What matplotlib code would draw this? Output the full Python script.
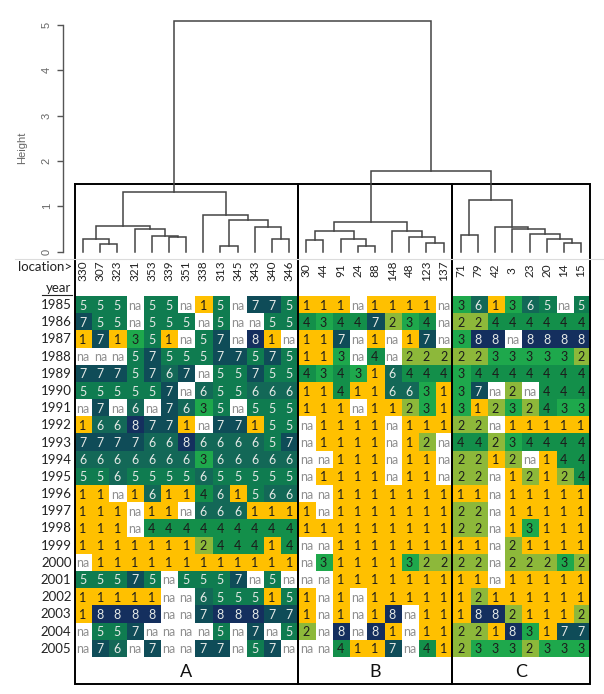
import numpy as np
import matplotlib
matplotlib.use("Agg")
import matplotlib.pyplot as plt
from matplotlib.colors import ListedColormap, BoundaryNorm

N = None

locations = ["330", "307", "323", "321", "353", "339", "351", "338", "313", "345", "343", "340", "346",
             "30", "44", "91", "24", "88", "148", "48", "123", "137",
             "71", "79", "42", "3", "23", "20", "14", "15"]
groups = ["A", "B", "C"]
group_sizes = [13, 9, 8]
years = [str(y) for y in range(1985, 2006)]

values = [
    [5, 5, 5, N, 5, 5, N, 1, 5, N, 7, 7, 5, 1, 1, 1, N, 1, 1, 1, 1, N, 3, 6, 1, 3, 6, 5, N, 5],
    [7, 5, 5, N, 5, 5, 5, N, 5, N, N, 5, 5, 4, 3, 4, 4, 7, 2, 3, 4, N, 2, 2, 4, 4, 4, 4, 4, 4],
    [1, 7, 1, 3, 5, 1, N, 5, 7, N, 8, 1, N, 1, 1, 7, N, 1, N, 1, 7, N, 3, 8, 8, N, 8, 8, 8, 8],
    [N, N, N, 5, 7, 5, 5, 5, 7, 7, 5, 7, 5, 1, 1, 3, N, 4, N, 2, 2, 2, 2, 2, 3, 3, 3, 3, 3, 2],
    [7, 7, 7, 5, 7, 6, 7, N, 5, 5, 7, 5, 5, 4, 3, 4, 3, 1, 6, 4, 4, 4, 3, 4, 4, 4, 4, 4, 4, 4],
    [5, 5, 5, 5, 5, 7, N, 6, 5, 5, 6, 6, 6, 1, 1, 4, 1, 1, 6, 6, 3, 1, 3, 7, N, 2, N, 4, 4, 4],
    [N, 7, N, 6, N, 7, 6, 3, 5, N, 5, 5, 5, 1, 1, 1, N, 1, 1, 2, 3, 1, 3, 1, 2, 3, 2, 4, 3, 3],
    [1, 6, 6, 8, 7, 7, 1, N, 7, 7, 1, 5, 5, N, 1, 1, 1, 1, N, 1, 1, 1, 2, 2, N, 1, 1, 1, 1, 1],
    [7, 7, 7, 7, 6, 6, 8, 6, 6, 6, 6, 5, 7, N, 1, 1, 1, 1, N, 1, 2, N, 4, 4, 2, 3, 4, 4, 4, 4],
    [6, 6, 6, 6, 6, 6, 6, 3, 6, 6, 6, 6, 6, N, N, 1, 1, 1, N, 1, 1, N, 2, 2, 1, 2, N, 1, 4, 4],
    [5, 5, 6, 5, 5, 5, 5, 6, 5, 5, 5, 5, 5, N, 1, 1, 1, 1, N, 1, 1, N, 2, 2, N, 1, 2, 1, 2, 4],
    [1, 1, N, 1, 6, 1, 1, 4, 6, 1, 5, 6, 6, N, N, 1, 1, 1, 1, 1, 1, 1, 1, 1, N, 1, 1, 1, 1, 1],
    [1, 1, 1, N, 1, 1, N, 6, 6, 6, 1, 1, 1, 1, N, 1, 1, 1, 1, 1, 1, 1, 2, 2, N, 1, 1, 1, 1, 1],
    [1, 1, 1, N, 4, 4, 4, 4, 4, 4, 4, 4, 4, 1, 1, 1, 1, 1, 1, 1, 1, 1, 2, 2, N, 1, 3, 1, 1, 1],
    [1, 1, 1, 1, 1, 1, 1, 2, 4, 4, 4, 1, 4, N, N, 1, 1, 1, 1, 1, 1, 1, 1, 1, N, 2, 1, 1, 1, 1],
    [N, 1, 1, 1, 1, 1, 1, 1, 1, 1, 1, 1, 1, N, 3, 1, 1, 1, 1, 3, 2, 2, 2, 2, N, 2, 2, 2, 3, 2],
    [5, 5, 5, 7, 5, N, 5, 5, 5, 7, N, 5, N, N, N, 1, 1, 1, 1, 1, 1, 1, 1, 1, N, 1, 1, 1, 1, 1],
    [1, 1, 1, 1, 1, N, N, 6, 5, 5, 5, 1, 5, 1, N, 1, N, 1, 1, 1, 1, 1, 1, 2, 1, 1, 1, 1, 1, 1],
    [1, 8, 8, 8, 8, N, N, 7, 8, 8, 8, 7, 7, 1, N, 1, N, 1, 8, N, 1, 1, 1, 8, 8, 2, 1, 1, 1, 2],
    [N, 5, 5, 7, N, N, N, N, 5, N, 7, N, 5, 2, N, 8, N, 8, 1, N, 1, 1, 2, 2, 1, 8, 3, 1, 7, 7],
    [N, 7, 6, N, 7, N, N, 7, 7, N, 5, 7, N, N, N, 4, 1, 1, 7, N, 4, 1, 2, 3, 3, 3, 2, 3, 3, 3],
]

# dendrogram merges (R hclust style): child a, child b, height
merge_a = ["307", "330", "339", "353", "321", "m1", "313", "340", "343", "m6", "338", "m5",
           "30", "24", "91", "m12", "123", "48", "148", "m15",
           "71", "14", "20", "23", "3", "42", "m20", "m19", "m11"]
merge_b = ["323", "m0", "351", "m2", "m3", "m4", "345", "346", "m7", "m8", "m9", "m10",
           "44", "88", "m13", "m14", "137", "m16", "m17", "m18",
           "79", "15", "m21", "m22", "m23", "m24", "m25", "m26", "m27"]
merge_h = [0.16, 0.29, 0.33, 0.345, 0.51, 0.57, 0.13, 0.29, 0.54, 0.71, 0.82, 1.31,
           0.25, 0.13, 0.27, 0.46, 0.20, 0.32, 0.46, 0.65,
           0.375, 0.20, 0.29, 0.38, 0.51, 0.55, 1.14, 1.77, 5.09]

value_colors = ["#FFC000", "#8DB83A", "#1EA84C", "#138F4A", "#0F7C50", "#136857", "#0F4C58", "#142F5E"]

W, H = 604, 694
fig = plt.figure(figsize=(W / 100, H / 100), dpi=100)
fig.patch.set_facecolor("white")
FONT = ["Lato", "DejaVu Sans"]


def px_axes(x0, y0, x1, y1):
    return fig.add_axes([x0 / W, 1 - y1 / H, (x1 - x0) / W, (y1 - y0) / H])


# ---------------- heatmap ----------------
cell_w = 17.17
cell_h = 17.18
hx0 = 74.5
hy0 = 296.5
ncol = len(locations)
nrow = len(years)
hx1 = hx0 + ncol * cell_w


def rowc(py):
    return (py - hy0) / cell_h - 0.5


def colc(px):
    return (px - hx0) / cell_w - 0.5


top_px, bot_px = 184.0, 684.0
hm = px_axes(hx0, top_px, hx1, bot_px)
hm.set_xlim(-0.5, ncol - 0.5)
hm.set_ylim(rowc(bot_px), rowc(top_px))
hm.axis("off")

arr = np.array([[np.nan if v is None else v for v in row] for row in values], dtype=float)
cmap = ListedColormap(value_colors)
cmap.set_bad("white")
norm = BoundaryNorm(np.arange(0.5, 9.5, 1), cmap.N)
hm.imshow(np.ma.masked_invalid(arr), cmap=cmap, norm=norm, aspect="auto",
          extent=(-0.5, ncol - 0.5, nrow - 0.5, -0.5), interpolation="nearest", zorder=1)

for r, row in enumerate(values):
    for c, v in enumerate(row):
        if v is None:
            txt, col = "na", "#8f8f8f"
        else:
            txt = str(v)
            col = "#1c1c1c" if v <= 4 else "#e4e9e6"
        hm.text(c, r + 0.03, txt, ha="center", va="center", fontsize=9, color=col,
                family=FONT, zorder=3)

# year labels
for r, y in enumerate(years):
    hm.text(colc(71.5), r, y, ha="right", va="center", fontsize=9.5, color="#222222",
            family=FONT, clip_on=False)

# location labels
lab_y = rowc(270.5)
for c, name in enumerate(locations):
    hm.text(c, lab_y, name, ha="center", va="center", rotation=90, fontsize=8.5,
            color="#222222", family=FONT, clip_on=False)
hm.text(colc(72.5), rowc(267), "location>", ha="right", va="center", fontsize=9.5,
        color="#222222", family=FONT, clip_on=False)
hm.text(colc(71.5), rowc(288.5), "year", ha="right", va="center", fontsize=9.5,
        color="#222222", family=FONT, clip_on=False)
hm.plot([colc(42), colc(71.5)], [rowc(295), rowc(295)], color="#222222", lw=0.8,
        clip_on=False)

# group boxes and labels
start = 0
for g, size in zip(groups, group_sizes):
    x0 = start - 0.5
    x1 = start + size - 0.5
    yt, yb = rowc(top_px), rowc(bot_px)
    hm.plot([x0, x1, x1, x0, x0], [yt, yt, yb, yb, yt], color="black", lw=1.4,
            clip_on=False, zorder=5, solid_joinstyle="miter")
    hm.text((x0 + x1) / 2, rowc(672), g, ha="center", va="center", fontsize=13,
            color="#111111", family=FONT)
    start += size

# ---------------- dendrogram ----------------
ax_left_px = 63.0
leaf0_px = hx0 + 0.5 * cell_w
unit_px = 45.34
y0_px = 251.7
dn_top_px = 12.0
dn = px_axes(ax_left_px, dn_top_px, hx1, y0_px)
dn.set_xlim((ax_left_px - leaf0_px) / cell_w, ncol - 0.5)
dn.set_ylim(0, (y0_px - dn_top_px) / unit_px)
dn.patch.set_alpha(0)

pos = {name: (float(i), 0.0) for i, name in enumerate(locations)}
for i, (a, b, h) in enumerate(zip(merge_a, merge_b, merge_h)):
    xa, ha_ = pos[a]
    xb, hb_ = pos[b]
    dn.plot([xa, xa, xb, xb], [ha_, h, h, hb_], color="#444444", lw=1.1,
            clip_on=False, solid_joinstyle="miter")
    pos[f"m{i}"] = ((xa + xb) / 2, h)

for s in ["top", "right", "bottom"]:
    dn.spines[s].set_visible(False)
dn.spines["left"].set_bounds(0, 5)
dn.spines["left"].set_color("#555555")
dn.spines["left"].set_linewidth(1.0)
dn.set_xticks([])
dn.set_yticks(range(0, 6))
dn.tick_params(axis="y", length=4, width=1.0, color="#555555", labelcolor="#666666",
               labelsize=8, pad=4)
for t in dn.get_yticklabels():
    t.set_rotation(90)
    t.set_va("center")
    t.set_family(["Liberation Sans", "DejaVu Sans"])

fig.text(22 / W, 1 - 148 / H, "Height", rotation=90, ha="center", va="center",
         fontsize=8, color="#666666", family=["Liberation Sans", "DejaVu Sans"])

# faint border line of the pasted image
fig.add_artist(plt.Line2D([15 / W, 1.0], [1 - 259 / H, 1 - 259 / H], color="#dcdcdc",
                          lw=0.8, transform=fig.transFigure))

fig.savefig("out.png", dpi=100, facecolor="white")
